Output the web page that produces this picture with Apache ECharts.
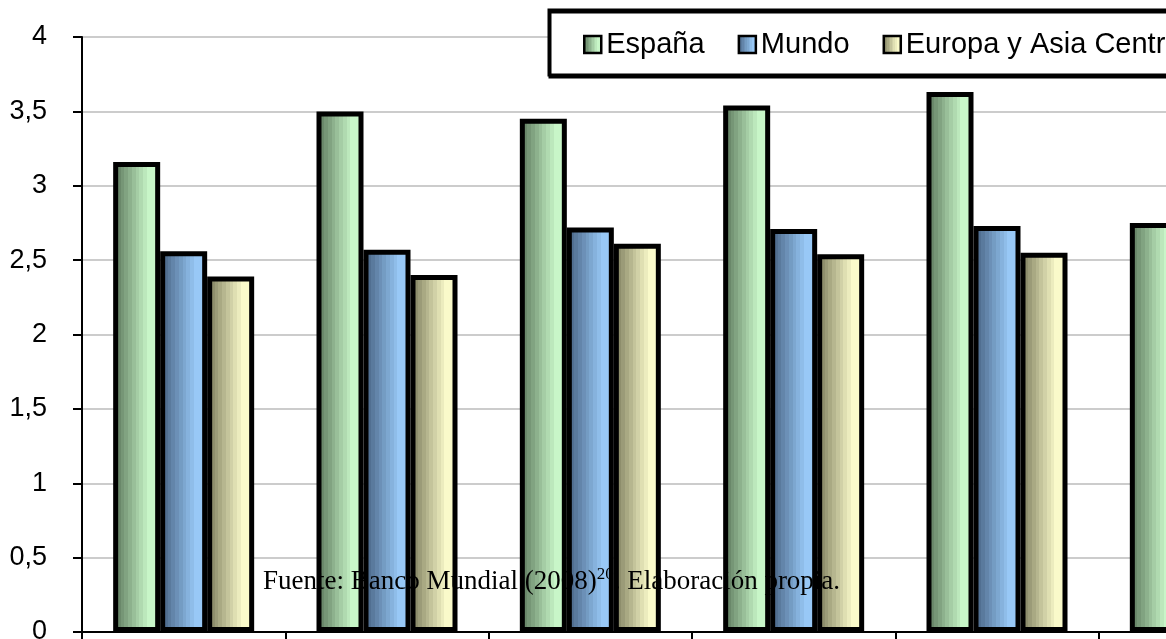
<!DOCTYPE html>
<html>
<head>
<meta charset="utf-8">
<script src="https://cdn.jsdelivr.net/npm/echarts@6/dist/echarts.min.js"></script>
<style>
  html, body { margin: 0; padding: 0; background: #ffffff; }
  #chart { width: 1166px; height: 639px; }
</style>
</head>
<body>
<div id="chart"></div>
<script>
// Category groups (labels sit below the visible frame)
const categories = ['2002', '2003', '2004', '2005', '2006', '2007'];
// Series values
const espana     = [3.16, 3.50, 3.45, 3.54, 3.63, 2.75];
const mundo      = [2.56, 2.57, 2.72, 2.71, 2.73, null];
const europaAsia = [2.39, 2.40, 2.61, 2.54, 2.55, null];
const seriesNames = ['España', 'Mundo', 'Europa y Asia Central'];
// Value axis ticks
const yMin = 0, yMax = 4, yStep = 0.5;
// Source note (main text, superscript, trailing text)
const noteParts = ['Fuente: Banco Mundial (2008)', '20', '. Elaboración propia.'];

// Horizontal stepped gradient: dark on the left, light on the right
function banded(dark, light) {
  const stops = [];
  const n = 10, span = 0.8;
  for (let i = 0; i < n; i++) {
    const t = i / (n - 1);
    const c = dark.map((d, k) => Math.round(d + (light[k] - d) * t));
    const col = 'rgb(' + c.join(',') + ')';
    stops.push({ offset: i * span / n, color: col });
    stops.push({ offset: (i + 1) * span / n, color: col });
  }
  stops.push({ offset: 1, color: 'rgb(' + light.join(',') + ')' });
  return new echarts.graphic.LinearGradient(0, 0, 1, 0, stops);
}

const fills = [
  banded([94, 122, 94], [200, 246, 200]),
  banded([72, 100, 132], [152, 200, 246]),
  banded([128, 128, 96], [250, 250, 202])
];

const chart = echarts.init(document.getElementById('chart'), null, { renderer: 'canvas' });

function barSeries(name, data, fill) {
  return {
    name: name,
    type: 'bar',
    data: data,
    barWidth: 47,
    barGap: '0%',
    itemStyle: {
      color: fill,
      borderColor: '#000000',
      borderWidth: 5
    },
    emphasis: { disabled: true }
  };
}

chart.setOption({
  animation: false,
  backgroundColor: '#ffffff',
  textStyle: { fontFamily: '"Liberation Sans", Arial, sans-serif' },
  // the plot area runs past the right edge of the frame
  grid: { left: 82, top: 37, bottom: 7, width: 1220, containLabel: false, outerBoundsMode: 'none' },
  legend: {
    data: seriesNames,
    left: 549,
    top: 10,
    width: 760,
    orient: 'horizontal',
    padding: [20, 20, 16, 34],
    itemGap: 33,
    itemWidth: 17,
    itemHeight: 17,
    icon: 'rect',
    backgroundColor: '#ffffff',
    borderColor: '#000000',
    borderWidth: 3,
    shadowColor: '#000000',
    shadowBlur: 0,
    shadowOffsetX: 1,
    shadowOffsetY: 2,
    itemStyle: { borderColor: '#000000', borderWidth: 2.5 },
    textStyle: {
      color: '#000000',
      fontSize: 29,
      fontFamily: '"Liberation Sans", Arial, sans-serif'
    }
  },
  xAxis: {
    type: 'category',
    data: categories,
    boundaryGap: true,
    axisLine: { show: true, lineStyle: { color: '#000000', width: 2 } },
    axisTick: { show: true, length: 9, interval: 0, lineStyle: { color: '#000000', width: 2 } },
    axisLabel: { show: false },
    splitLine: { show: false }
  },
  yAxis: {
    type: 'value',
    min: yMin,
    max: yMax,
    interval: yStep,
    axisLine: { show: true, lineStyle: { color: '#000000', width: 2 } },
    axisTick: { show: true, length: 9, lineStyle: { color: '#000000', width: 2 } },
    axisLabel: {
      margin: 35,
      color: '#000000',
      fontSize: 27,
      fontFamily: '"Liberation Sans", Arial, sans-serif',
      formatter: v => String(v).replace('.', ',')
    },
    splitLine: { show: true, lineStyle: { color: '#cccccc', width: 2 } }
  },
  series: [
    barSeries(seriesNames[0], espana, fills[0]),
    barSeries(seriesNames[1], mundo, fills[1]),
    barSeries(seriesNames[2], europaAsia, fills[2])
  ],
  graphic: [{
    type: 'text',
    left: 263,
    top: 566,
    z: 100,
    style: {
      text: '{a|' + noteParts[0] + '}{s|' + noteParts[1] + '}{a|' + noteParts[2] + '}',
      fill: '#000000',
      rich: {
        a: { fontFamily: '"Liberation Serif", "Times New Roman", serif', fontSize: 27, lineHeight: 29, verticalAlign: 'bottom', fill: '#000000' },
        s: { fontFamily: '"Liberation Serif", "Times New Roman", serif', fontSize: 17, lineHeight: 17, verticalAlign: 'top', fill: '#000000' }
      }
    }
  }]
});
</script>
</body>
</html>
